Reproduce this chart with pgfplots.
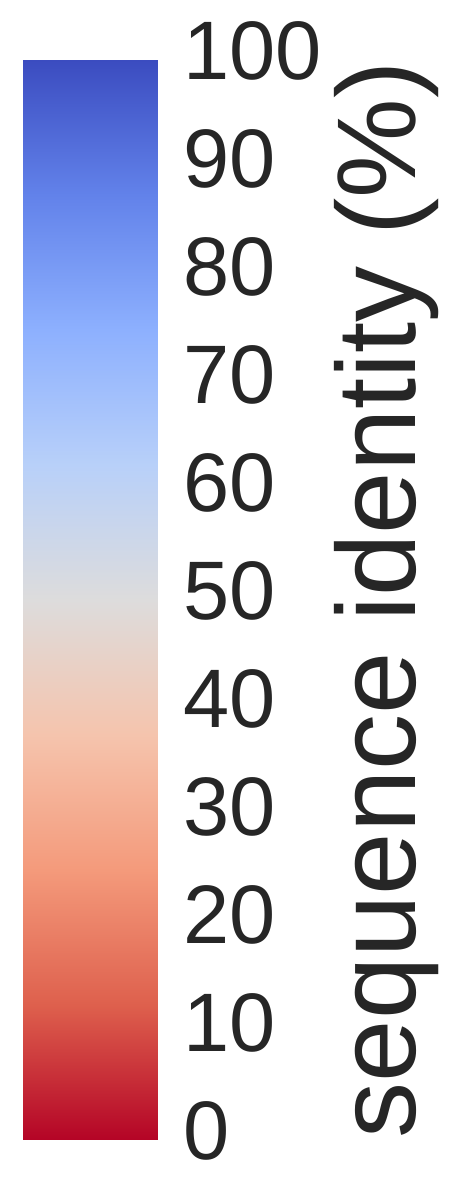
\documentclass[border=0pt]{standalone}
\usepackage{pgfplots}
\pgfplotsset{compat=1.18}
\usepackage{fontspec}
\setmainfont{Liberation Sans}
\definecolor{txt}{RGB}{38,38,38}
\begin{document}
\begin{tikzpicture}
\useasboundingbox (0,0) rectangle (225pt,600pt);
\begin{axis}[
  at={(11.5pt,30pt)}, anchor=south west,
  scale only axis, width=67.5pt, height=540pt,
  xmin=0, xmax=1, ymin=0, ymax=100,
  axis line style={draw=none},
  xtick=\empty,
  ytick={0,10,...,100},
  ytick pos=right, yticklabel pos=right,
  major tick length=0pt,
  /pgf/number format/assume math mode=true,
  yticklabel style={font=\fontsize{41.5}{41.5}\selectfont, text=txt, inner sep=0pt, anchor=west, xshift=12.5pt, yshift=4.75pt},
  colormap={cw}{rgb255=(180,4,38) rgb255=(222,96,77) rgb255=(244,154,123) rgb255=(245,196,173) rgb255=(221,220,220) rgb255=(184,208,249) rgb255=(141,176,254) rgb255=(98,130,234) rgb255=(59,76,192)},
  point meta min=0, point meta max=100,
  clip=false,
]
\addplot[surf, shader=interp, point meta=explicit] table[meta=c] {
x y c
0 0 0
1 0 0

0 12.5 12.5
1 12.5 12.5

0 25 25
1 25 25

0 37.5 37.5
1 37.5 37.5

0 50 50
1 50 50

0 62.5 62.5
1 62.5 62.5

0 75 75
1 75 75

0 87.5 87.5
1 87.5 87.5

0 100 100
1 100 100
};
\end{axis}
\node[rotate=90, anchor=base, inner sep=0pt, text=txt, font=\fontsize{56}{56}\selectfont] at (207.5pt,300.25pt) {sequence identity (\%)};
\end{tikzpicture}
\end{document}
